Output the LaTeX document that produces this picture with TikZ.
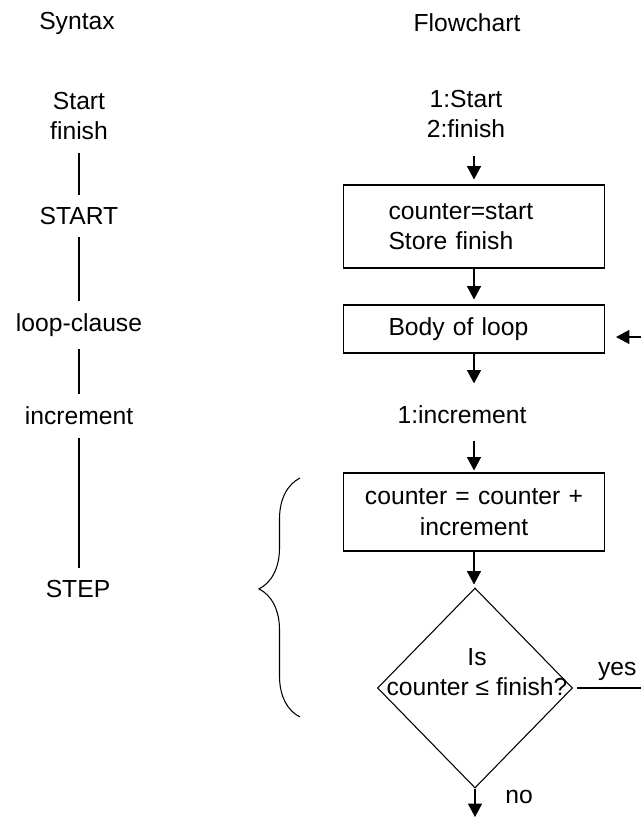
\documentclass[tikz,border=0pt]{standalone}
\usepackage{fontspec}
\setmainfont{Liberation Sans}
\usetikzlibrary{shapes.geometric, arrows.meta, positioning,
  decorations.pathreplacing}

\begin{document}
\begin{tikzpicture}[x=0.75pt, y=-0.75pt, >={Triangle[length=10pt, width=10.5pt]},
    font=\fontsize{18.5pt}{23pt}\selectfont, line width=0.8pt,
    lbl/.style={inner sep=0pt, align=center},
    box/.style={draw, inner ysep=0pt, minimum width=195.75pt},
    decision/.style={draw, diamond, inner sep=0pt, minimum width=146.25pt, minimum height=150pt},
    link/.style={shorten <=9pt, shorten >=9pt}]
    \useasboundingbox (0,0) rectangle (641,818);

    % syntax column
    \node[lbl] (syntitle) at (77,23) {Syntax};
    \node[lbl] (synSE) at (79,116) {Start\\finish};
    \node[lbl] (synstart) at (79,216) {START};
    \node[lbl] (synloop) at (79,325) {loop-clause};
    \node[lbl] (syninc) at (79,416) {increment};
    \node[lbl] (synstep) at (78,589) {STEP};
    \foreach \a/\b in {synSE/synstart, synstart/synloop, synloop/syninc, syninc/synstep}
        \draw[link] (\a.south) -- (\a.south |- \b.north);

    % flowchart column
    \node[lbl] (fctitle) at (467,23) {Flowchart};
    \node[lbl] (fcSE) at (466,114) {1:Start\\2:finish};
    \node[box, minimum height=62.25pt, inner xsep=33.75pt, text width=128.25pt, align=left]
        (init) at (474,226.5) {counter=start\\Store finish};
    \node[box, minimum height=36pt, inner xsep=33.75pt, text width=128.25pt, align=left]
        (body) at (474,329) {Body of loop};
    \node[lbl] (fcinc) at (462,415) {1:increment};
    \node[box, minimum height=58.5pt, inner xsep=0pt, text width=195.75pt, align=center]
        (update) at (474,512) {counter = counter +\\increment};
    \node[decision] (test) at (475,688) {};
    \node[lbl] (testtext) at (477,672) {Is\\counter ≤ finish?};

    \coordinate (back) at (641,337);
    \coordinate (yesout) at (641,688);
    \coordinate (exit) at (475,817);

    \draw[->, shorten <=12.75pt, shorten >=3.75pt] (init.north |- fcSE.south) -- (init.north);
    \draw[->, shorten >=3.75pt] (init.south) -- (body.north);
    \draw[->, shorten >=16.5pt] (body.south) -- (body.south |- fcinc.north);
    \draw[->, shorten <=12pt, shorten >=1.5pt] (update.north |- fcinc.south) -- (update.north);
    \draw[->, shorten >=2.25pt] (update.south) -- (update.south |- test.north);
    \draw[->, shorten >=8.25pt] (back) -- (back -| body.east);
    \draw[shorten <=3pt] (test.east) -- (yesout) node[pos=0.65, above=2pt] {yes};
    \draw[->] (test.south) -- (exit) node[pos=0.3, right=19pt] {no};

    \draw[decorate, decoration={brace, amplitude=30.75pt, aspect=0.536}] (300,717) -- (300,478);
\end{tikzpicture}
\end{document}
